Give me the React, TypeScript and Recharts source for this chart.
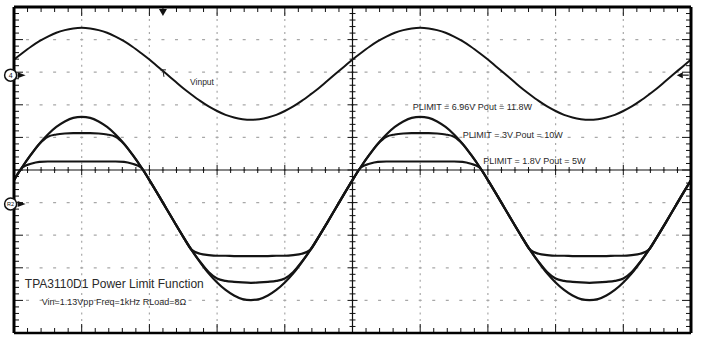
import React from 'react';
import { LineChart, Line, XAxis, YAxis, CartesianGrid, ReferenceLine, ReferenceDot } from 'recharts';

// time axis in screen divisions (10 horizontal divisions)
const time = [
  0, 0.125, 0.25, 0.375, 0.5, 0.625, 0.75, 0.875,
  1, 1.125, 1.25, 1.375, 1.5, 1.625, 1.75, 1.875,
  2, 2.125, 2.25, 2.375, 2.5, 2.625, 2.75, 2.875,
  3, 3.125, 3.25, 3.375, 3.5, 3.625, 3.75, 3.875,
  4, 4.125, 4.25, 4.375, 4.5, 4.625, 4.75, 4.875,
  5, 5.125, 5.25, 5.375, 5.5, 5.625, 5.75, 5.875,
  6, 6.125, 6.25, 6.375, 6.5, 6.625, 6.75, 6.875,
  7, 7.125, 7.25, 7.375, 7.5, 7.625, 7.75, 7.875,
  8, 8.125, 8.25, 8.375, 8.5, 8.625, 8.75, 8.875,
  9, 9.125, 9.25, 9.375, 9.5, 9.625, 9.75, 9.875,
  10,
];

// Vinput trace (divisions)
const vinput = [
  3.39, 3.59, 3.78, 3.95, 4.09, 4.21, 4.29, 4.34, 4.36,
  4.34, 4.29, 4.21, 4.09, 3.95, 3.78, 3.59, 3.39, 3.17, 2.95, 2.73, 2.51, 2.31, 2.12, 1.95, 1.81, 1.69, 1.61, 1.56, 1.54,
  1.56, 1.61, 1.69, 1.81, 1.95, 2.12, 2.31, 2.51, 2.73, 2.95, 3.17, 3.39, 3.59, 3.78, 3.95, 4.09, 4.21, 4.29, 4.34, 4.36,
  4.34, 4.29, 4.21, 4.09, 3.95, 3.78, 3.59, 3.39, 3.17, 2.95, 2.73, 2.51, 2.31, 2.12, 1.95, 1.81, 1.69, 1.61, 1.56, 1.54,
  1.56, 1.61, 1.69, 1.81, 1.95, 2.12, 2.31, 2.51, 2.73, 2.95, 3.17, 3.39,
];

// PLIMIT = 6.96V, Pout = 11.8W
const out118W = [
  -0.31, 0.10, 0.47, 0.81, 1.09, 1.32, 1.49, 1.60, 1.63,
  1.60, 1.49, 1.32, 1.09, 0.81, 0.47, 0.10, -0.31, -0.74, -1.18, -1.62, -2.05, -2.46, -2.83, -3.17, -3.45, -3.68, -3.85, -3.96, -3.99,
  -3.96, -3.85, -3.68, -3.45, -3.17, -2.83, -2.46, -2.05, -1.62, -1.18, -0.74, -0.31, 0.10, 0.47, 0.81, 1.09, 1.32, 1.49, 1.60, 1.63,
  1.60, 1.49, 1.32, 1.09, 0.81, 0.47, 0.10, -0.31, -0.74, -1.18, -1.62, -2.05, -2.46, -2.83, -3.17, -3.45, -3.68, -3.85, -3.96, -3.99,
  -3.96, -3.85, -3.68, -3.45, -3.17, -2.83, -2.46, -2.05, -1.62, -1.18, -0.74, -0.31,
];

// PLIMIT = 3V, Pout = 10W
const out10W = [
  -0.31, 0.10, 0.47, 0.80, 1.02, 1.09, 1.12, 1.13, 1.13,
  1.13, 1.12, 1.09, 1.02, 0.80, 0.47, 0.10, -0.31, -0.74, -1.18, -1.62, -2.05, -2.46, -2.82, -3.13, -3.33, -3.40, -3.43, -3.45, -3.46,
  -3.45, -3.43, -3.40, -3.33, -3.13, -2.82, -2.46, -2.05, -1.62, -1.18, -0.74, -0.31, 0.10, 0.47, 0.80, 1.02, 1.09, 1.12, 1.13, 1.13,
  1.13, 1.12, 1.09, 1.02, 0.80, 0.47, 0.10, -0.31, -0.74, -1.18, -1.62, -2.05, -2.46, -2.82, -3.13, -3.33, -3.40, -3.43, -3.45, -3.46,
  -3.45, -3.43, -3.40, -3.33, -3.13, -2.82, -2.46, -2.05, -1.62, -1.18, -0.74, -0.31,
];

// PLIMIT = 1.8V, Pout = 5W
const out5W = [
  -0.31, 0.08, 0.19, 0.25, 0.26, 0.26, 0.26, 0.26, 0.26,
  0.26, 0.26, 0.26, 0.26, 0.25, 0.19, 0.08, -0.31, -0.74, -1.18, -1.62, -2.05, -2.45, -2.57, -2.61, -2.63, -2.63, -2.64, -2.64, -2.64,
  -2.64, -2.64, -2.63, -2.63, -2.61, -2.57, -2.45, -2.05, -1.62, -1.18, -0.74, -0.31, 0.08, 0.19, 0.25, 0.26, 0.26, 0.26, 0.26, 0.26,
  0.26, 0.26, 0.26, 0.26, 0.25, 0.19, 0.08, -0.31, -0.74, -1.18, -1.62, -2.05, -2.45, -2.57, -2.61, -2.63, -2.63, -2.64, -2.64, -2.64,
  -2.64, -2.64, -2.63, -2.63, -2.61, -2.57, -2.45, -2.05, -1.62, -1.18, -0.74, -0.31,
];

const majorX = [0, 1, 2, 3, 4, 5, 6, 7, 8, 9, 10];
const majorY = [-5, -4, -3, -2, -1, 0, 1, 2, 3, 4, 5];

const labels = [
  { x: 2.6, y: 2.7, text: 'Vinput', size: 8.5 },
  { x: 5.89, y: 1.93, text: 'PLIMIT = 6.96V Pout = 11.8W', size: 9 },
  { x: 6.63, y: 1.07, text: 'PLIMIT = 3V Pout = 10W', size: 9 },
  { x: 6.93, y: 0.28, text: 'PLIMIT = 1.8V Pout = 5W', size: 9 },
  { x: 0.16, y: -3.5, text: 'TPA3110D1 Power Limit Function', size: 12 },
  { x: 0.41, y: -4.05, text: 'Vin=1.13Vpp Freq=1kHz RLoad=8Ω', size: 9 },
];

const data = time.map((t, i) => ({
  t,
  vin: vinput[i],
  p118: out118W[i],
  p10: out10W[i],
  p5: out5W[i],
}));

const W = 704;
const H = 347;
const M = { top: 7, right: 13, bottom: 14, left: 14 };
const XPX = (W - M.left - M.right) / 10;
const YPX = (H - M.top - M.bottom) / 10;

const minor = Array.from({ length: 51 }, (_, i) => +(i * 0.2).toFixed(2));
const minorX = minor;
const minorY = minor.map((v) => +(v - 5).toFixed(2));
const isMajor = (v: number) => Math.abs(v - Math.round(v)) < 1e-6;

const FONT = 'Liberation Sans, Arial, Helvetica, sans-serif';
const INK = '#141414';

const ChannelMarker = (txt: string, fs: number) => (props: any) => {
  const { cx, cy } = props;
  return (
    <g>
      <circle cx={cx} cy={cy} r={6} fill="#fff" stroke="#111" strokeWidth={1.5} />
      <text x={cx} y={cy + fs * 0.36} textAnchor="middle" fontSize={fs} fontFamily={FONT} fill="#111">{txt}</text>
      <path d={`M${cx + 7},${cy - 3} L${cx + 15},${cy} L${cx + 7},${cy + 3} Z`} fill="#111" />
    </g>
  );
};

const RightArrow = (props: any) => {
  const { cx, cy } = props;
  return (
    <g>
      <path d={`M${cx},${cy} L${cx + 6},${cy - 3} L${cx + 6},${cy + 3} Z`} fill="#111" />
      <line x1={cx + 6} y1={cy} x2={cx + 12} y2={cy} stroke="#111" strokeWidth={1.2} />
    </g>
  );
};

const TrigTop = (props: any) => {
  const { cx, cy } = props;
  return <path d={`M${cx - 4},${cy} L${cx + 4},${cy} L${cx},${cy + 7} Z`} fill="#111" />;
};

const TrigT = (props: any) => {
  const { cx, cy } = props;
  return (
    <g stroke="#222" strokeWidth={1}>
      <line x1={cx - 3} y1={cy - 3} x2={cx + 3} y2={cy - 3} />
      <line x1={cx} y1={cy - 3} x2={cx + 1} y2={cy + 4} />
    </g>
  );
};

export default function App() {
  const tickLines: React.ReactNode[] = [];
  // top & bottom border ticks, and ticks on the horizontal centre line
  minorX.forEach((x) => {
    const L = (isMajor(x) ? 9 : 5) / YPX;
    tickLines.push(<ReferenceLine key={'tt' + x} segment={[{ x, y: 5 }, { x, y: 5 - L }]} stroke="#111" strokeWidth={1} />);
    tickLines.push(<ReferenceLine key={'tb' + x} segment={[{ x, y: -5 }, { x, y: -5 + L }]} stroke="#111" strokeWidth={1} />);
    const c = (isMajor(x) ? 5 : 3) / YPX;
    tickLines.push(<ReferenceLine key={'tc' + x} segment={[{ x, y: -c }, { x, y: c }]} stroke="#111" strokeWidth={1} />);
  });
  // left & right border ticks, and ticks on the vertical centre line
  minorY.forEach((y) => {
    const L = (isMajor(y) ? 9 : 5) / XPX;
    tickLines.push(<ReferenceLine key={'tl' + y} segment={[{ x: 0, y }, { x: L, y }]} stroke="#111" strokeWidth={1} />);
    tickLines.push(<ReferenceLine key={'tr' + y} segment={[{ x: 10, y }, { x: 10 - L, y }]} stroke="#111" strokeWidth={1} />);
    const c = (isMajor(y) ? 5 : 3) / XPX;
    tickLines.push(<ReferenceLine key={'tv' + y} segment={[{ x: 5 - c, y }, { x: 5 + c, y }]} stroke="#111" strokeWidth={1} />);
  });

  return (
    <div style={{ position: 'absolute', left: 0, top: 0, width: W, height: H, background: '#fff' }}>
      <LineChart width={W} height={H} data={data} margin={M}>
        <XAxis dataKey="t" type="number" domain={[0, 10]} ticks={majorX} hide />
        <YAxis type="number" domain={[-5, 5]} ticks={majorY} hide />
        <CartesianGrid horizontal vertical={false} stroke="#a8a8a8" strokeWidth={1.2} strokeDasharray="3 10.54" strokeDashoffset={1.5} />
        <CartesianGrid horizontal={false} vertical stroke="#a8a8a8" strokeWidth={1.2} strokeDasharray="2 4.52" strokeDashoffset={1} />

        <ReferenceLine y={0} stroke="#111" strokeWidth={1.2} />
        <ReferenceLine x={5} stroke="#111" strokeWidth={1.2} />
        {tickLines}

        <Line type="monotone" dataKey="vin" stroke={INK} strokeWidth={2} dot={false} activeDot={false} isAnimationActive={false} />
        <Line type="monotone" dataKey="p118" stroke={INK} strokeWidth={2.2} dot={false} activeDot={false} isAnimationActive={false} />
        <Line type="monotone" dataKey="p10" stroke={INK} strokeWidth={2.2} dot={false} activeDot={false} isAnimationActive={false} />
        <Line type="monotone" dataKey="p5" stroke={INK} strokeWidth={2.2} dot={false} activeDot={false} isAnimationActive={false} />

        <ReferenceLine y={5} stroke="#000" strokeWidth={3} />
        <ReferenceLine y={-5} stroke="#000" strokeWidth={2.5} />
        <ReferenceLine x={0} stroke="#000" strokeWidth={3} />
        <ReferenceLine x={10} stroke="#000" strokeWidth={3} />

        {labels.map((l) => (
          <ReferenceDot
            key={l.text}
            x={l.x}
            y={l.y}
            r={0}
            fill="none"
            stroke="none"
            ifOverflow="visible"
            label={{ value: l.text, position: 'right', offset: 0, fill: '#2a2a2a', fontSize: l.size, fontFamily: FONT }}
          />
        ))}

        <ReferenceDot x={-0.05} y={2.91} r={6} ifOverflow="visible" shape={ChannelMarker('4', 7)} />
        <ReferenceDot x={-0.05} y={-1.04} r={6} ifOverflow="visible" shape={ChannelMarker('R2', 5.5)} />
        <ReferenceDot x={9.79} y={2.91} r={3} ifOverflow="visible" shape={RightArrow} />
        <ReferenceDot x={2.2} y={4.94} r={3} ifOverflow="visible" shape={TrigTop} />
        <ReferenceDot x={2.2} y={2.98} r={3} ifOverflow="visible" shape={TrigT} />
      </LineChart>
    </div>
  );
}
